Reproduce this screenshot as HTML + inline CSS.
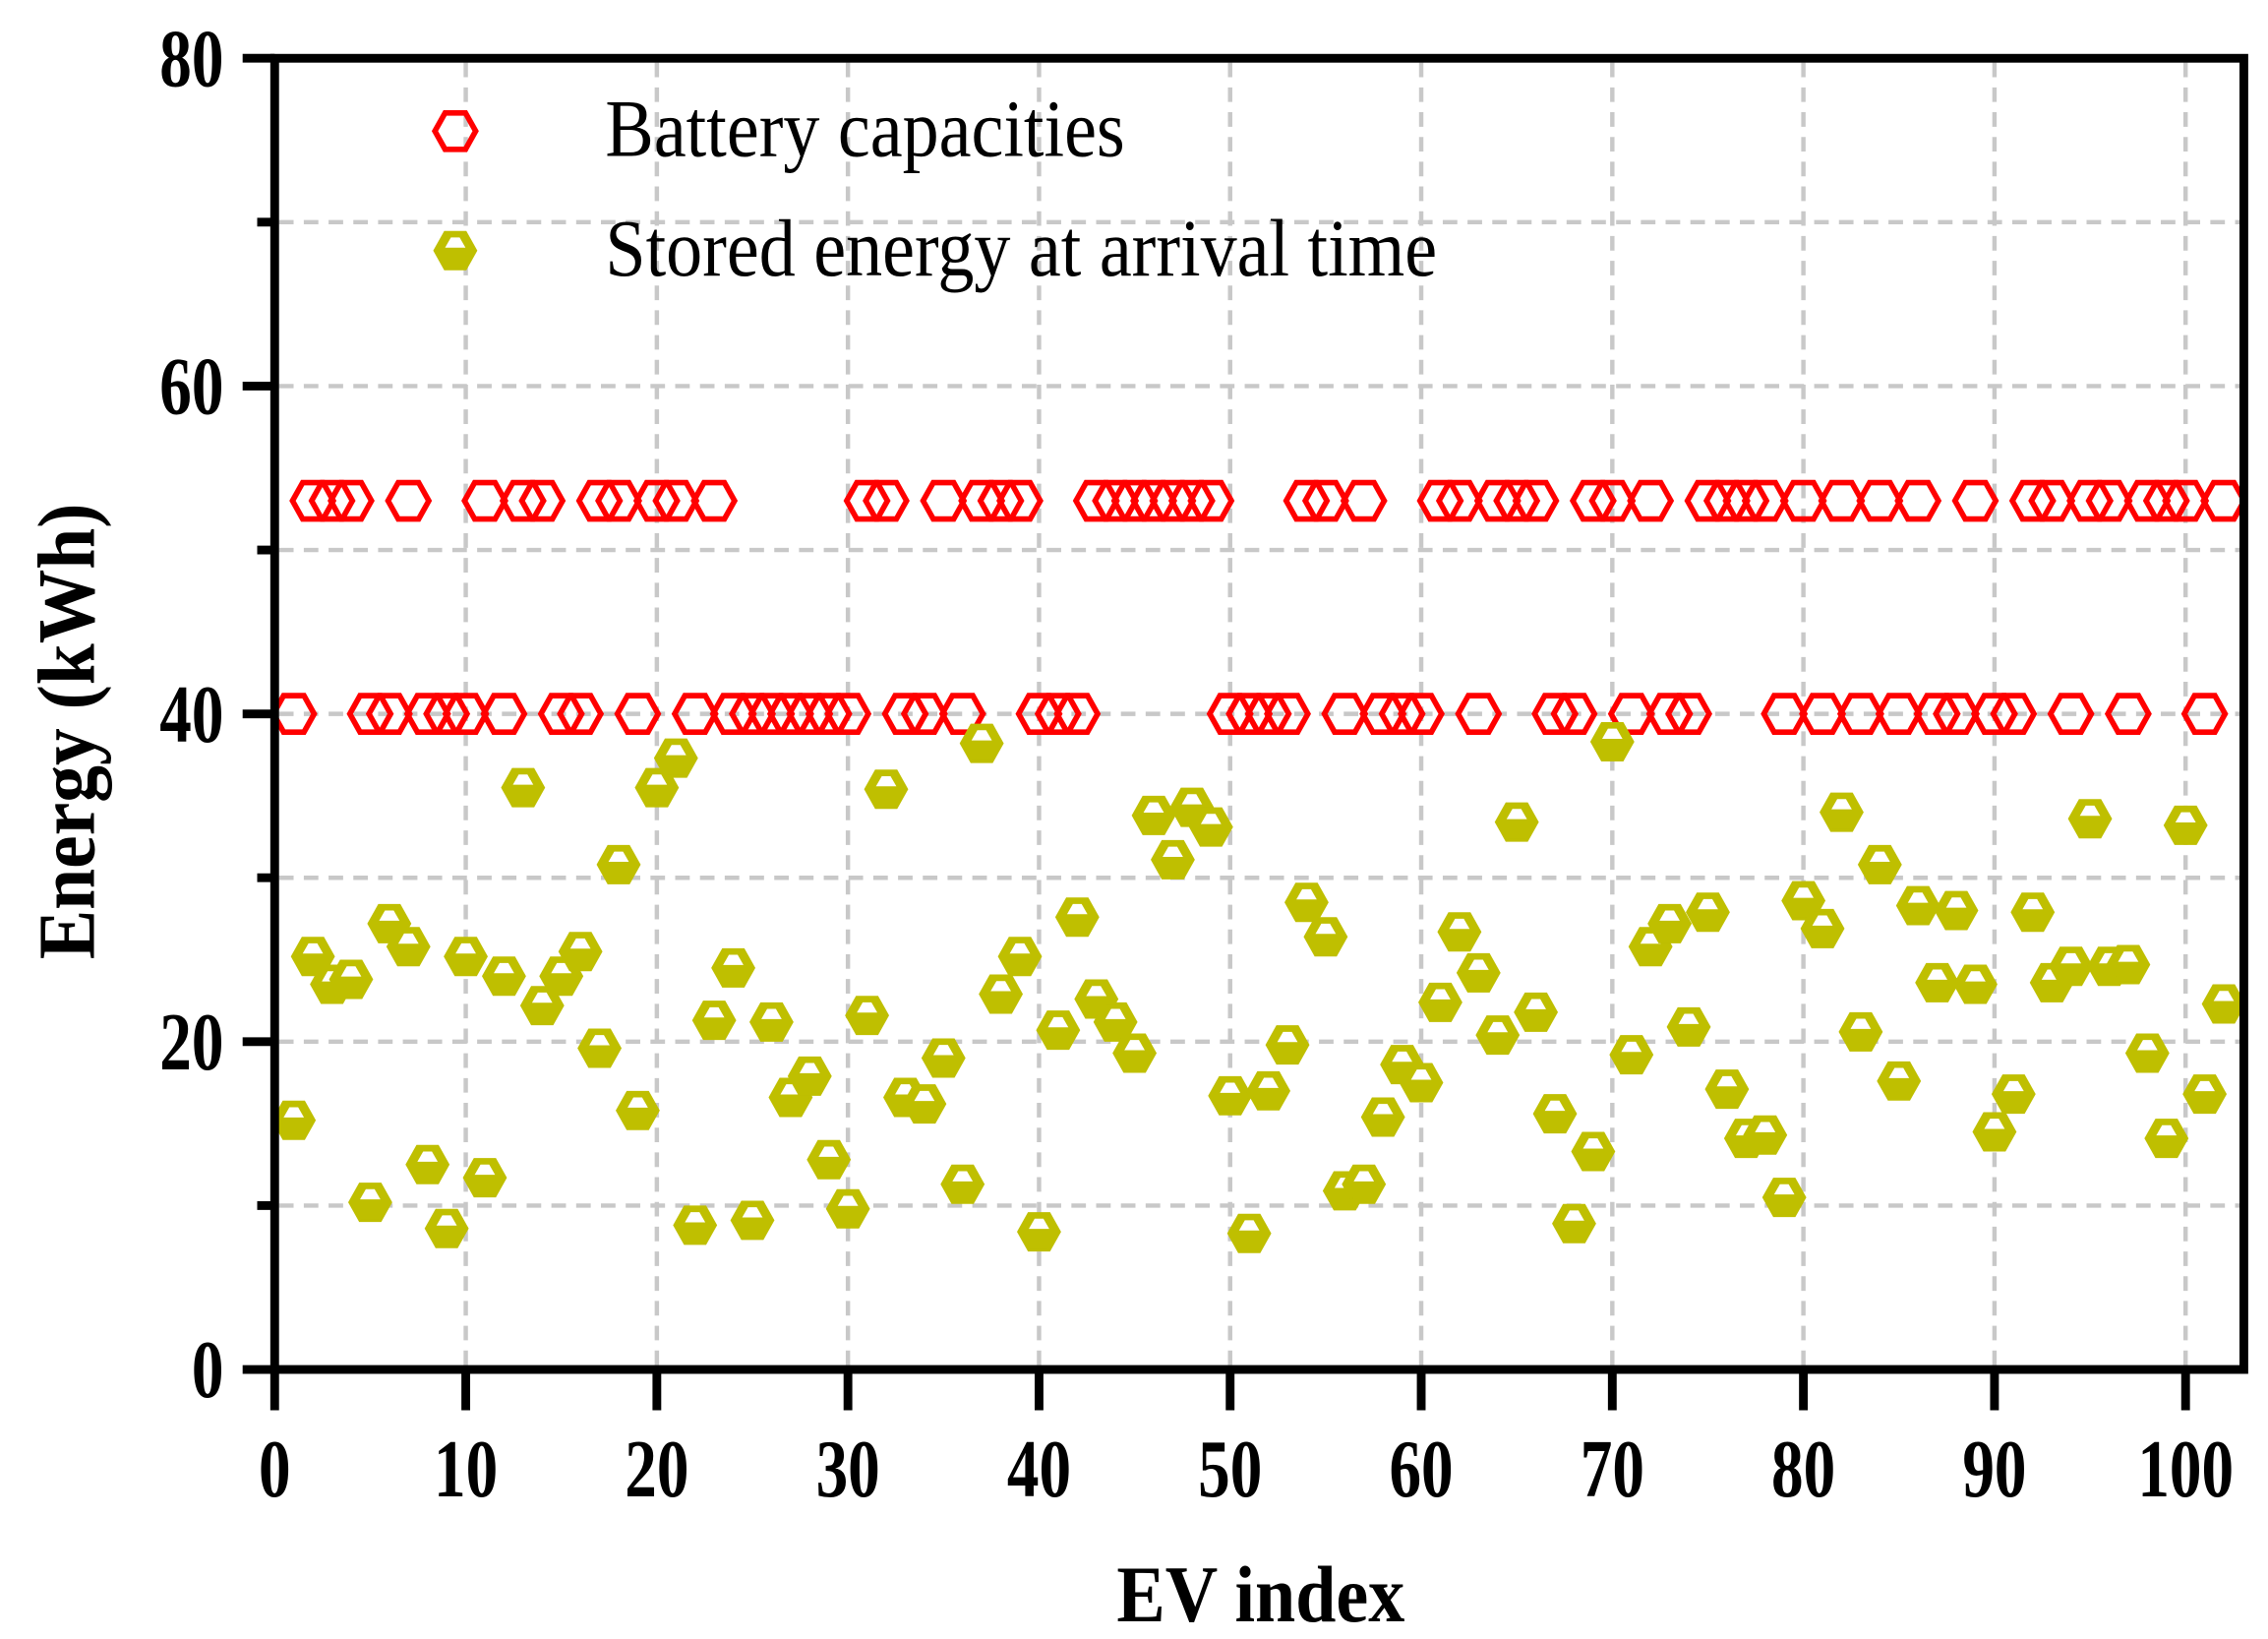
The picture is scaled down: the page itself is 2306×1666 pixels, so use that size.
<!DOCTYPE html>
<html><head><meta charset="utf-8"><style>
html,body{margin:0;padding:0;background:#fff;}
svg{display:block;}
text{font-family:"Liberation Serif",serif;}
</style></head><body>
<svg id="s" width="2306" height="1666" viewBox="0 0 1556 1125" xmlns="http://www.w3.org/2000/svg">
<rect width="1556" height="1125" fill="#fff"/>
<g id="grid" stroke="#c8c8c8" stroke-width="3" stroke-dasharray="10,7" fill="none"></g>
<g id="pts"></g>
<rect x="188" y="40" width="1352" height="900" fill="none" stroke="#000" stroke-width="6"/>
<g id="ticks" stroke="#000" stroke-width="6"></g>
<g id="labels" font-weight="bold" font-size="44" fill="#000"></g>
<text transform="translate(865,1113) scale(1,1.1)" text-anchor="middle" font-weight="bold" font-size="50">EV index</text>
<text transform="translate(64,502) rotate(-90) scale(1,1.1)" text-anchor="middle" font-weight="bold" font-size="51">Energy (kWh)</text>
<g id="legend"></g>
<text transform="translate(415,107) scale(1,1.12)" font-size="50">Battery capacities</text>
<text transform="translate(415,189) scale(1,1.12)" font-size="50">Stored energy at arrival time</text>
</svg>
<script>
const NS="http://www.w3.org/2000/svg";
const X=i=>188+13.12*i, Y=v=>940-11.25*v;
function el(p,t,a){const e=document.createElementNS(NS,t);for(const k in a)e.setAttribute(k,a[k]);p.appendChild(e);return e;}
const g=document.getElementById('grid'),tk=document.getElementById('ticks'),lb=document.getElementById('labels'),pts=document.getElementById('pts'),lg=document.getElementById('legend');
for(let i=10;i<=100;i+=10)el(g,'line',{x1:X(i),x2:X(i),y1:43,y2:937});
for(let v=10;v<=70;v+=10)el(g,'line',{x1:191,x2:1537,y1:Y(v),y2:Y(v)});
for(let i=0;i<=100;i+=10){el(tk,'line',{x1:X(i),x2:X(i),y1:940,y2:968});const t=el(lb,'text',{transform:`translate(${X(i)},1027) scale(1,1.28)`,'text-anchor':'middle'});t.textContent=i;}
for(let v=0;v<=80;v+=10){const maj=v%20==0;el(tk,'line',{x1:maj?166:176,x2:188,y1:Y(v),y2:Y(v)});if(maj){const t=el(lb,'text',{transform:`translate(153,${Y(v)+19}) scale(1,1.28)`,'text-anchor':'end'});t.textContent=v;}}
function hex(cx,cy){const w=14,h=12.5,q=7;return `${cx-w},${cy} ${cx-q},${cy-h} ${cx+q},${cy-h} ${cx+w},${cy} ${cx+q},${cy+h} ${cx-q},${cy+h}`;}
function red(p,cx,cy){el(p,'polygon',{points:hex(cx,cy),fill:'none',stroke:'#ff0000','stroke-width':3.8});}
function yel(p,cx,cy){el(p,'polygon',{points:hex(cx,cy),fill:'#bfbf00',stroke:'#bfbf00','stroke-width':2});
 el(p,'polygon',{points:`${cx-3},${cy-9} ${cx+3},${cy-9} ${cx+7},${cy-2} ${cx-7},${cy-2}`,fill:'#fff'});}
const s53=new Set([2,3,4,7,11,13,14,17,18,20,21,23,31,32,35,37,38,39,43,44,45,46,47,48,49,54,55,57,61,62,64,65,66,69,70,72,75,76,77,78,80,82,84,86,89,92,93,95,96,98,99,100,102]);
const yv=[15.2,25.2,23.5,23.8,10.2,27.2,25.8,12.5,8.6,25.2,11.7,24,35.5,22.2,24,25.5,19.6,30.8,15.8,35.5,37.3,8.8,21.3,24.5,9.1,21.2,16.6,17.9,12.8,9.8,21.6,35.4,16.6,16.2,19,11.3,38.2,22.9,25.2,8.4,20.7,27.6,22.6,21.2,19.3,33.8,31.1,34.3,33.1,16.7,8.3,17,19.8,28.5,26.4,10.9,11.3,15.4,18.6,17.5,22.4,26.7,24.2,20.4,33.4,21.8,15.6,8.9,13.3,38.3,19.2,25.8,27.2,20.9,27.9,17.1,14.1,14.3,10.5,28.6,26.9,34,20.6,30.8,17.6,28.3,23.6,28,23.5,14.5,16.8,27.9,23.6,24.6,33.6,24.6,24.7,19.3,14.1,33.2,16.8,22.3];
for(let i=1;i<=102;i++){red(pts,X(i),Y(s53.has(i)?53:40));}
for(let i=1;i<=102;i++){yel(pts,X(i),Y(yv[i-1]));}
red(lg,312,90);yel(lg,312,172);
</script>
</body></html>
